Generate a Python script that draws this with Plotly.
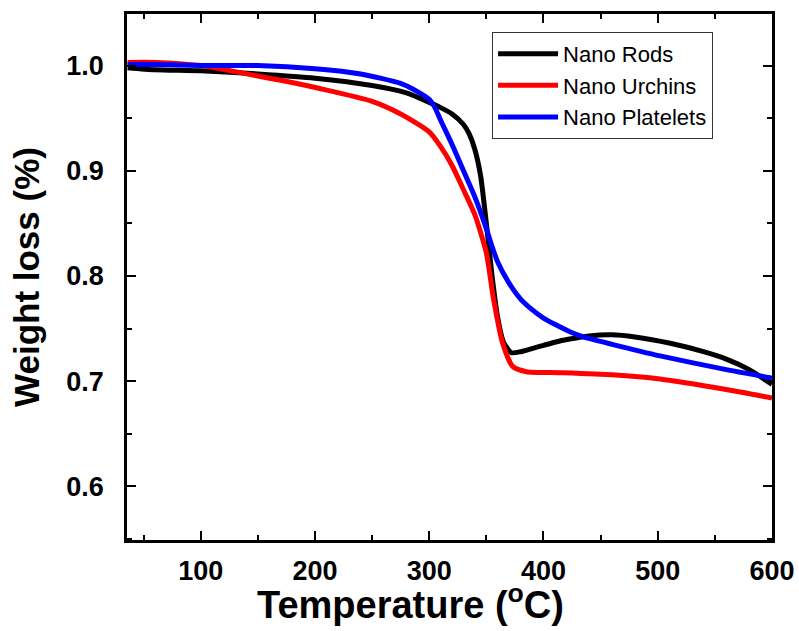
import plotly.graph_objects as go

# Nano Rods (black)
rods_t = [36, 60, 100, 150, 200, 250, 280, 300, 310, 320, 330, 335, 340, 345, 350, 355, 360, 365, 372, 380, 390, 400, 410, 423, 440, 460, 480, 511, 540, 560, 580, 600]
rods_w = [0.998, 0.996, 0.995, 0.992, 0.988, 0.981, 0.974, 0.965, 0.960, 0.954, 0.944, 0.935, 0.92, 0.895, 0.85, 0.80, 0.76, 0.737, 0.727, 0.728, 0.731, 0.734, 0.737, 0.740, 0.743, 0.744, 0.742, 0.736, 0.728, 0.721, 0.711, 0.697]

# Nano Urchins (red)
urch_t = [36, 60, 100, 117, 150, 170, 205, 250, 275, 300, 310, 320, 330, 340, 350, 356, 364, 373, 385, 414, 460, 502, 560, 600]
urch_w = [1.003, 1.003, 1.0, 0.997, 0.99, 0.986, 0.978, 0.966, 0.954, 0.937, 0.923, 0.905, 0.882, 0.858, 0.822, 0.78, 0.737, 0.714, 0.709, 0.708, 0.706, 0.702, 0.692, 0.684]

# Nano Platelets (blue)
plat_t = [36, 60, 100, 150, 200, 240, 275, 290, 300, 305, 310, 320, 330, 340, 350, 355, 360, 370, 380, 390, 400, 410, 423, 435, 460, 502, 560, 600]
plat_w = [1.001, 1.001, 1.0, 1.0, 0.997, 0.992, 0.983, 0.975, 0.968, 0.96, 0.948, 0.925, 0.90, 0.875, 0.845, 0.828, 0.813, 0.793, 0.778, 0.768, 0.760, 0.754, 0.747, 0.742, 0.735, 0.724, 0.711, 0.703]

x_ticks = [100, 200, 300, 400, 500, 600]
y_ticks = [0.6, 0.7, 0.8, 0.9, 1.0]

FONT = "Liberation Sans, Arial, sans-serif"

fig = go.Figure()
for name, t, w, c in [("Nano Rods", rods_t, rods_w, "#000000"),
                      ("Nano Urchins", urch_t, urch_w, "#ff0000"),
                      ("Nano Platelets", plat_t, plat_w, "#0000ff")]:
    fig.add_trace(go.Scatter(x=t, y=w, mode="lines", name=name,
                             line=dict(color=c, width=5, shape="spline", smoothing=0.6)))

axis_common = dict(showline=True, linecolor="black", linewidth=2.5, mirror="allticks",
                   ticks="inside", ticklen=9, tickwidth=2, tickcolor="black",
                   showgrid=False, zeroline=False, automargin=False,
                   tickfont=dict(family=FONT, size=27, color="black", weight="bold"))

fig.update_layout(
    width=799, height=631,
    margin=dict(l=127, r=27, t=14, b=91),
    paper_bgcolor="white", plot_bgcolor="white",
    font=dict(family=FONT, color="black"),
    xaxis=dict(range=[35.5, 600], tickvals=x_ticks, ticklabelstandoff=5,
               minor=dict(ticks="inside", ticklen=5, tickwidth=2, tickcolor="black", dtick=50, tick0=0),
               **axis_common),
    yaxis=dict(range=[0.549, 1.049], tickvals=y_ticks, tickformat=".1f", ticklabelstandoff=15,
               minor=dict(ticks="inside", ticklen=5, tickwidth=2, tickcolor="black", dtick=0.05, tick0=0),
               title=dict(text="Weight loss (%)", standoff=17,
                          font=dict(family=FONT, size=35, color="black", weight="bold")),
               **axis_common),
    legend=dict(x=0.566, y=0.966, xanchor="left", yanchor="top",
                bordercolor="#333333", borderwidth=1, bgcolor="white",
                font=dict(family=FONT, size=22, color="black"),
                tracegroupgap=0, itemwidth=60),
    showlegend=True,
    annotations=[dict(text="Temperature (<sup>o</sup>C)", xref="paper", yref="paper",
                      x=0.439, y=-0.118, xanchor="center", yanchor="middle", showarrow=False,
                      font=dict(family=FONT, size=38, color="black", weight="bold"))],
)

fig.write_html("out.html", config={"displayModeBar": False},
               post_script="document.body.style.margin='0px';")
